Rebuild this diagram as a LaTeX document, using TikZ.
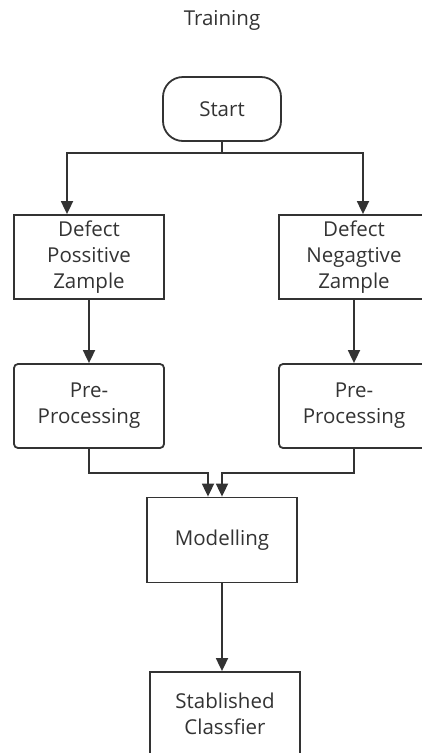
\documentclass[tikz,border=0pt]{standalone}
\usepackage{fontspec}
\setmainfont{Open Sans}
\usetikzlibrary{arrows.meta,positioning}
\definecolor{inkgray}{HTML}{333333}
\tikzset{
  box/.style={rectangle,draw=inkgray,line width=1.8pt,text=inkgray,align=center,
    minimum width=150pt,minimum height=84pt,inner sep=0pt,
    font=\fontsize{20.5}{26}\selectfont},
  flow/.style={-{Triangle[length=13pt,width=12pt]},draw=inkgray,line width=1.8pt},
}
\begin{document}
\begin{tikzpicture}[x=1pt,y=-1pt]
\useasboundingbox (0,0) rectangle (422,753);
\clip (0,0) rectangle (422,753);
% \draw[help lines,step=50] (0,0) grid (422,753);
\node (title) [text=inkgray,font=\fontsize{20.5}{26}\selectfont] at (222,20) {Training};
\node (start) [box,rounded corners=20pt,minimum width=118pt,minimum height=64pt] at (222,109) {Start};
\node (pos) [box] at (89,257) {Defect\\Possitive\\Zample};
\node (neg) [box] at (354,257) {Defect\\Negagtive\\Zample};
\node (prepos) [box,rounded corners=4pt] at (89,406) {Pre-\\Processing};
\node (preneg) [box,rounded corners=4pt] at (354,406) {Pre-\\Processing};
\node (model) [box,minimum height=85pt] at (222,540) {Modelling};
\node (clf) [box] at (225,714) {Stablished\\Classfier};
%
\coordinate (split) at (222,153);
\draw[draw=inkgray,line width=1.8pt] (start.south) -- (split);
\draw[flow] (split) -| ([xshift=-22pt]pos.north);
\draw[flow] (split) -| ([xshift=9pt]neg.north);
\draw[flow] (pos) -- (prepos);
\draw[flow] (neg) -- (preneg);
\draw[flow] (prepos.south) |- (208,473) -- ([xshift=-14pt]model.north);
\draw[flow] (preneg.south) |- (222,473) -- (model.north);
\draw[flow] (model) -- ([xshift=-3pt]clf.north);
\end{tikzpicture}
\end{document}
